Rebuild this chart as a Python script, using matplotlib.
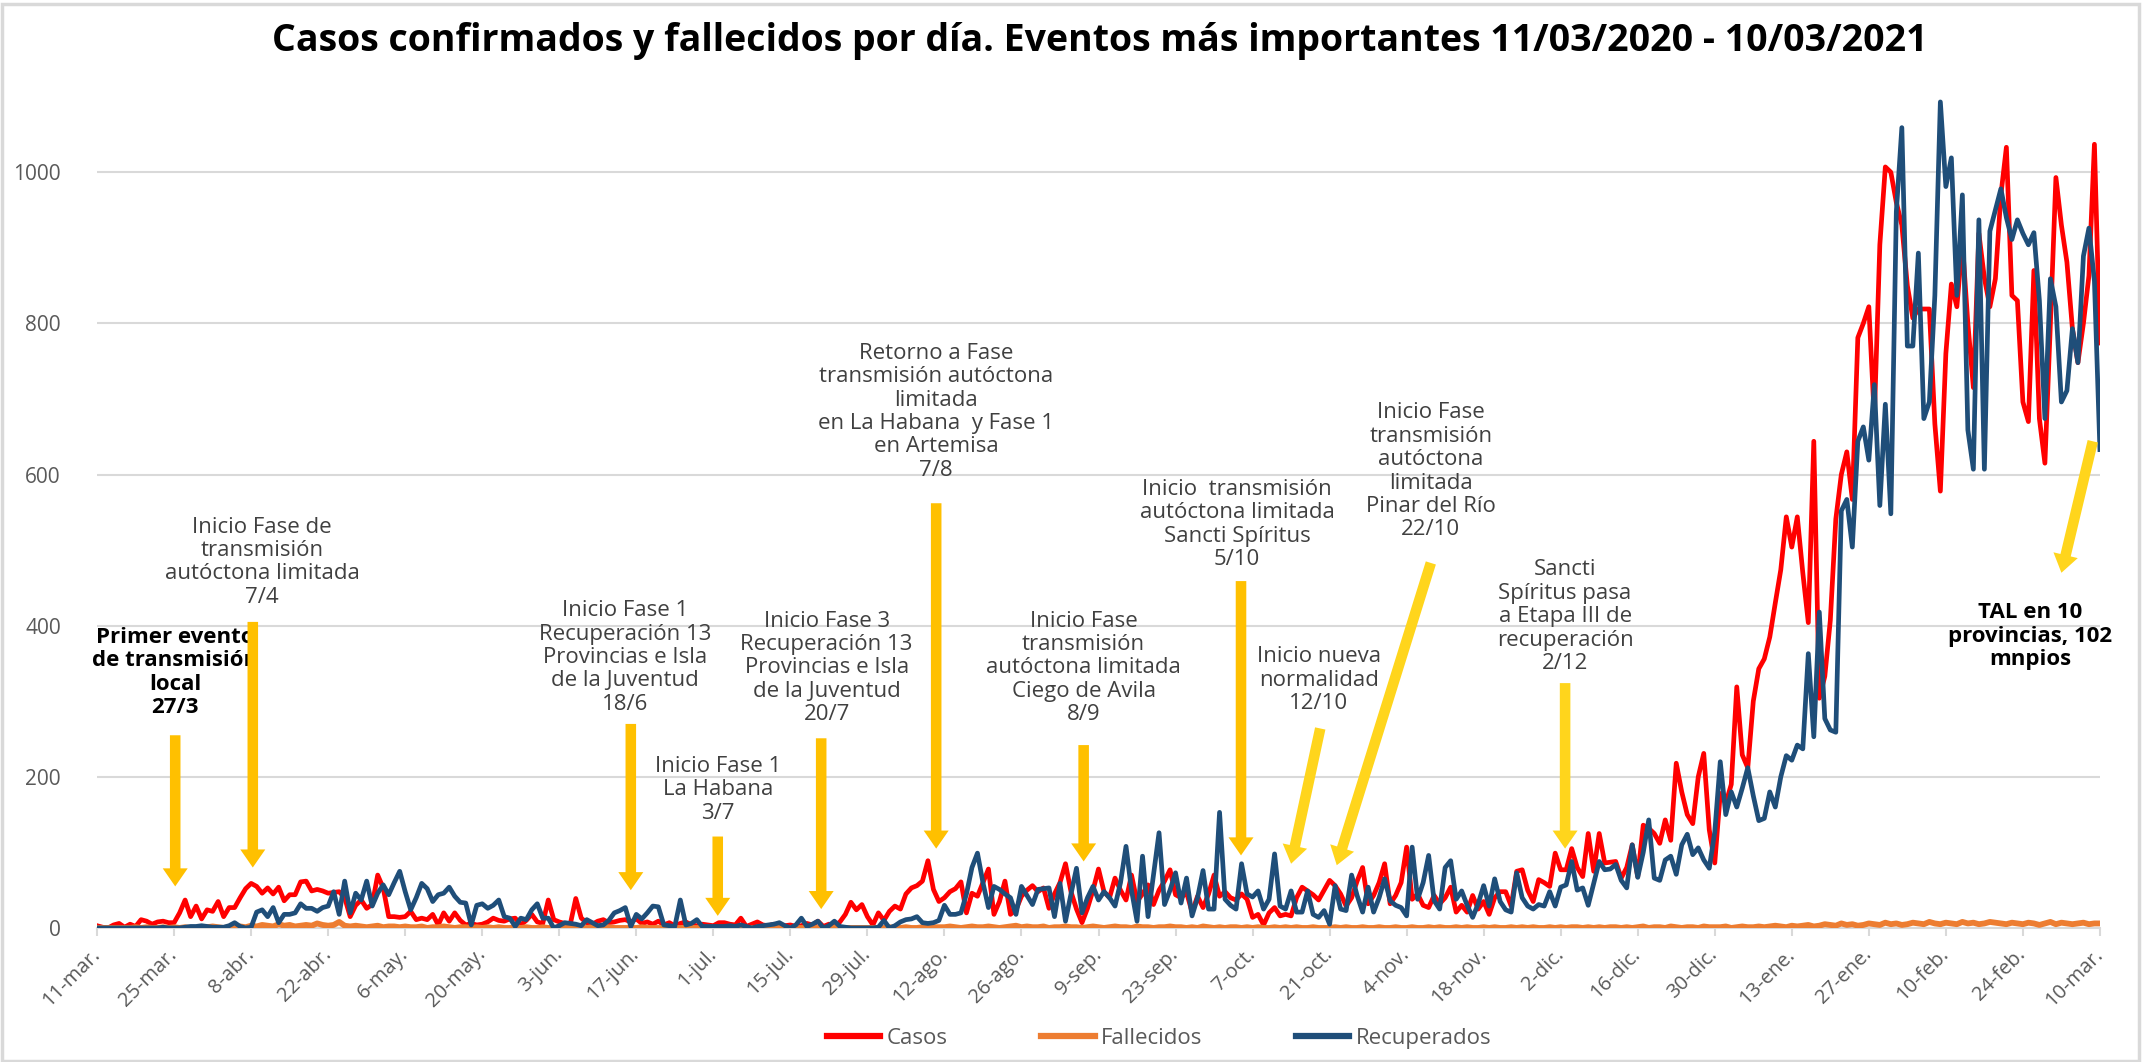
import numpy as np
import matplotlib
matplotlib.use("Agg")
from matplotlib import pyplot as plt
from matplotlib.patches import Rectangle

# one value per day, 11/03/2020 .. 10/03/2021 (rows of 14 days)
casos = [
    3, 1, 0, 4, 6, 1, 5, 2, 11, 9, 5, 8, 9, 7,
    7, 20, 37, 15, 29, 12, 24, 22, 35, 15, 27, 27, 40, 52,
    59, 55, 46, 53, 45, 54, 36, 44, 44, 61, 62, 49, 51, 49,
    46, 47, 48, 40, 15, 30, 37, 26, 31, 70, 53, 15, 15, 14,
    15, 22, 11, 13, 11, 18, 4, 20, 9, 20, 10, 4, 6, 4,
    5, 8, 13, 10, 9, 12, 13, 4, 10, 18, 8, 6, 37, 11,
    8, 6, 5, 39, 13, 7, 5, 9, 11, 7, 8, 10, 11, 8,
    12, 6, 8, 5, 9, 4, 7, 3, 6, 8, 4, 3, 5, 4,
    3, 7, 7, 5, 4, 13, 2, 5, 8, 4, 3, 5, 2, 3,
    4, 2, 3, 6, 4, 9, 2, 5, 3, 8, 18, 34, 24, 31,
    15, 4, 20, 10, 22, 29, 25, 45, 53, 56, 62, 89, 51, 35,
    40, 48, 52, 61, 20, 46, 42, 60, 78, 18, 35, 62, 18, 24,
    42, 50, 56, 48, 53, 26, 45, 60, 85, 48, 25, 7, 26, 50,
    78, 48, 40, 66, 50, 37, 70, 35, 45, 57, 31, 50, 62, 77,
    44, 40, 47, 21, 42, 27, 45, 70, 42, 48, 40, 37, 45, 38,
    14, 18, 4, 20, 27, 16, 18, 16, 40, 54, 49, 44, 37, 50,
    63, 56, 45, 29, 40, 62, 80, 32, 43, 60, 85, 32, 43, 60,
    107, 38, 45, 30, 27, 43, 32, 40, 54, 21, 30, 21, 43, 25,
    35, 18, 40, 48, 48, 29, 75, 77, 50, 35, 64, 60, 55, 99,
    77, 77, 105, 80, 68, 125, 75, 125, 86, 87, 88, 66, 80, 110,
    68, 136, 132, 125, 112, 143, 116, 218, 180, 150, 138, 200, 231, 130,
    86, 178, 165, 190, 319, 229, 212, 300, 343, 356, 385, 430, 474, 544,
    504, 544, 470, 404, 644, 304, 333, 407, 541, 600, 630, 567, 781, 800,
    822, 674, 904, 1007, 1000, 960, 930, 850, 807, 819, 819, 819, 667, 578,
    760, 852, 822, 907, 800, 715, 919, 860, 822, 859, 970, 1033, 837, 830,
    696, 670, 870, 674, 615, 800, 993, 930, 881, 793, 748, 800, 863, 1037,
    774,
]

fallecidos = [
    0, 0, 0, 0, 0, 0, 0, 1, 0, 1, 0, 0, 1, 0,
    1, 0, 1, 0, 0, 1, 1, 2, 1, 0, 1, 1, 2, 1,
    3, 2, 4, 3, 2, 5, 3, 4, 2, 3, 4, 3, 6, 4,
    3, 4, 8, 3, 2, 3, 2, 1, 2, 3, 1, 2, 2, 1,
    2, 1, 1, 2, 0, 1, 1, 2, 1, 0, 1, 1, 0, 1,
    0, 1, 0, 1, 0, 0, 1, 0, 1, 0, 0, 1, 0, 0,
    1, 0, 0, 1, 0, 0, 1, 0, 0, 1, 0, 0, 0, 0,
    0, 1, 0, 0, 0, 0, 1, 0, 0, 0, 0, 0, 0, 1,
    0, 0, 0, 0, 1, 0, 0, 0, 0, 0, 0, 1, 0, 0,
    0, 0, 0, 0, 0, 0, 0, 0, 1, 0, 0, 0, 0, 0,
    0, 0, 0, 0, 1, 0, 0, 1, 0, 0, 1, 0, 1, 1,
    1, 2, 1, 0, 1, 2, 1, 1, 2, 1, 0, 1, 2, 3,
    1, 2, 1, 1, 2, 0, 1, 1, 2, 1, 1, 0, 1, 2,
    1, 0, 1, 2, 1, 1, 0, 2, 1, 1, 0, 1, 1, 2,
    1, 1, 0, 1, 0, 2, 1, 0, 1, 0, 1, 1, 0, 1,
    0, 1, 0, 0, 1, 0, 1, 0, 1, 0, 0, 1, 0, 0,
    0, 1, 0, 1, 0, 0, 1, 0, 0, 1, 0, 0, 1, 0,
    0, 1, 0, 0, 1, 0, 1, 0, 0, 1, 0, 1, 0, 0,
    1, 0, 1, 0, 0, 1, 0, 1, 0, 1, 0, 0, 1, 0,
    1, 0, 1, 1, 0, 1, 0, 1, 0, 1, 1, 0, 1, 0,
    1, 2, 0, 1, 1, 0, 2, 1, 0, 1, 1, 0, 2, 1,
    1, 1, 2, 0, 1, 2, 1, 1, 2, 1, 2, 3, 2, 1,
    3, 2, 3, 4, 2, 3, 5, 4, 3, 6, 4, 5, 3, 4,
    6, 5, 4, 7, 5, 6, 4, 5, 7, 6, 5, 8, 6, 5,
    7, 6, 5, 8, 6, 7, 5, 6, 8, 7, 6, 5, 7, 6,
    5, 7, 6, 4, 6, 8, 5, 7, 6, 5, 6, 7, 5, 6,
    6,
]

recuperados = [
    0, 0, 0, 0, 0, 0, 0, 0, 0, 0, 0, 0, 1, 0,
    0, 0, 1, 2, 2, 3, 2, 1, 1, 1, 3, 7, 2, 0,
    1, 21, 24, 15, 27, 7, 18, 18, 20, 32, 26, 26, 22, 27,
    29, 48, 18, 62, 20, 46, 37, 62, 29, 46, 57, 44, 60, 75,
    48, 24, 40, 59, 52, 35, 44, 46, 54, 42, 34, 33, 4, 30,
    32, 26, 30, 37, 15, 13, 2, 13, 11, 24, 32, 13, 13, 0,
    3, 7, 6, 5, 3, 11, 7, 3, 4, 10, 20, 23, 27, 2,
    18, 12, 20, 29, 28, 4, 3, 2, 37, 4, 6, 11, 2, 2,
    2, 2, 2, 3, 2, 4, 2, 0, 2, 3, 4, 5, 7, 3,
    0, 4, 13, 2, 5, 9, 0, 3, 9, 2, 1, 0, 0, 0,
    0, 0, 1, 10, 0, 3, 8, 11, 12, 15, 7, 6, 7, 10,
    30, 18, 18, 20, 45, 80, 99, 60, 27, 55, 51, 45, 40, 18,
    55, 43, 31, 51, 52, 53, 15, 59, 9, 45, 79, 20, 40, 55,
    37, 48, 40, 29, 60, 108, 50, 9, 95, 15, 70, 126, 31, 50,
    73, 33, 66, 16, 40, 76, 25, 25, 153, 38, 30, 25, 85, 45,
    41, 49, 25, 38, 98, 29, 25, 49, 21, 21, 49, 18, 14, 23,
    5, 56, 25, 23, 70, 43, 21, 54, 21, 40, 65, 36, 30, 27,
    16, 107, 38, 60, 96, 36, 25, 80, 89, 38, 49, 30, 14, 32,
    56, 29, 65, 35, 24, 21, 73, 40, 29, 25, 31, 29, 48, 29,
    54, 57, 88, 50, 53, 30, 59, 88, 77, 78, 84, 63, 53, 110,
    67, 100, 143, 66, 63, 90, 95, 71, 110, 124, 97, 106, 90, 79,
    127, 220, 150, 180, 160, 185, 212, 175, 142, 145, 180, 160, 200, 228,
    222, 242, 237, 363, 253, 418, 277, 262, 259, 552, 567, 504, 644, 663,
    619, 719, 559, 693, 548, 948, 1059, 770, 770, 893, 674, 696, 837, 1093,
    981, 1019, 837, 970, 659, 607, 937, 607, 922, 950, 978, 940, 911, 937,
    919, 904, 920, 830, 674, 859, 822, 696, 711, 793, 748, 889, 926, 856,
    633,
]

etiquetas = ['11-mar.', '25-mar.', '8-abr.', '22-abr.', '6-may.', '20-may.', '3-jun.',
             '17-jun.', '1-jul.', '15-jul.', '29-jul.', '12-ago.', '26-ago.', '9-sep.',
             '23-sep.', '7-oct.', '21-oct.', '4-nov.', '18-nov.', '2-dic.', '16-dic.',
             '30-dic.', '13-ene.', '27-ene.', '10-feb.', '24-feb.', '10-mar.']

eventos = [
    "Primer evento\nde transmisión\nlocal\n27/3",
    "Inicio Fase de\ntransmisión\nautóctona limitada\n7/4",
    "Inicio Fase 1\nRecuperación 13\nProvincias e Isla\nde la Juventud\n18/6",
    "Inicio Fase 1\nLa Habana\n3/7",
    "Inicio Fase 3\nRecuperación 13\nProvincias e Isla\nde la Juventud\n20/7",
    "Retorno a Fase\ntransmisión autóctona\nlimitada\nen La Habana  y Fase 1\nen Artemisa\n7/8",
    "Inicio Fase\ntransmisión\nautóctona limitada\nCiego de Avila\n8/9",
    "Inicio  transmisión\nautóctona limitada\nSancti Spíritus\n5/10",
    "Inicio nueva\nnormalidad\n12/10",
    "Inicio Fase\ntransmisión\nautóctona\nlimitada\nPinar del Río\n22/10",
    "Sancti\nSpíritus pasa\na Etapa III de\nrecuperación\n2/12",
    "TAL en 10\nprovincias, 102\nmnpios",
]

# layout of each event: text centre, arrow tail, arrow head (day, value), bold, arrow colour
GOLD = '#FFC000'
YEL = '#FFD51C'
colocacion = [
    ((14.2, 338), (14.2, 255), (14.2, 55), True, GOLD),
    ((30.0, 484), (28.3, 405), (28.3, 80), False, GOLD),
    ((95.9, 358), (97.0, 270), (97.0, 50), False, GOLD),
    ((112.8, 183), (112.8, 121), (112.8, 16), False, GOLD),
    ((132.6, 344), (131.6, 251), (131.6, 25), False, GOLD),
    ((152.5, 683), (152.5, 562), (152.5, 105), False, GOLD),
    ((179.3, 344), (179.3, 242), (179.3, 88), False, GOLD),
    ((207.2, 534), (207.9, 459), (207.9, 96), False, GOLD),
    ((222.0, 328), (222.3, 264), (217.0, 85), False, YEL),
    ((242.4, 604), (242.4, 483), (225.3, 83), False, YEL),
    ((266.8, 412), (266.8, 324), (266.8, 105), False, YEL),
    ((351.3, 386), (362.7, 644), (357.0, 470), True, YEL),
]

plt.rcParams['font.family'] = ['Open Sans', 'DejaVu Sans']

x = np.arange(len(casos))

fig = plt.figure(figsize=(21.43, 10.62), dpi=100)
ax = fig.add_axes([0.0453, 0.1262, 0.9346, 0.7828])

ax.plot(x, casos, color='#FF0000', lw=3.4, label='Casos', zorder=3, solid_joinstyle='round')
ax.plot(x, fallecidos, color='#ED7D31', lw=4.2, label='Fallecidos', zorder=3, solid_joinstyle='round')
ax.plot(x, recuperados, color='#1F4E79', lw=3.4, label='Recuperados', zorder=4, solid_joinstyle='round')

ax.set_xlim(0, len(casos) - 1)
ax.set_ylim(0, 1100)
ax.set_yticks(range(0, 1001, 200))
ax.set_xticks(range(0, len(casos), 14))
ax.set_xticklabels(etiquetas, rotation=45, ha='right', va='center', rotation_mode='anchor')

ax.yaxis.grid(True, color='#D9D9D9', lw=1.5)
ax.set_axisbelow(True)
for s in ['top', 'right', 'left']:
    ax.spines[s].set_visible(False)
ax.spines['bottom'].set_color('#D9D9D9')
ax.spines['bottom'].set_linewidth(1.5)
ax.tick_params(axis='x', length=6, width=1.5, color='#D9D9D9', labelsize=14.5,
               labelcolor='#595959', pad=11)
ax.tick_params(axis='y', length=0, labelsize=15, labelcolor='#595959', pad=26)

for texto, (pos, cola, punta, negrita, col) in zip(eventos, colocacion):
    ax.text(pos[0], pos[1], texto, ha='center', va='center', fontsize=16,
            fontweight='bold' if negrita else 'normal',
            color='black' if negrita else '#404040', linespacing=1.15, zorder=5)
    ax.annotate('', xy=punta, xytext=cola, annotation_clip=False,
                arrowprops=dict(arrowstyle='simple,head_length=0.65,head_width=0.9,tail_width=0.38',
                                mutation_scale=20, color=col, lw=0,
                                shrinkA=0, shrinkB=0), zorder=6)

fig.text(0.513, 0.961, 'Casos confirmados y fallecidos por día. Eventos más importantes 11/03/2020 - 10/03/2021',
         ha='center', va='center', fontsize=27, fontweight='bold')

leg = ax.legend(loc='center', bbox_to_anchor=(0.541, 0.022), bbox_transform=fig.transFigure,
                ncol=3, frameon=False, fontsize=16, handlelength=2.4, columnspacing=4.2,
                handletextpad=0.3, labelcolor='#595959')
for h in leg.get_lines():
    h.set_linewidth(4.5)

fig.patches.append(Rectangle((0.001, 0.001), 0.997, 0.995, transform=fig.transFigure,
                             fill=False, edgecolor='#D9D9D9', lw=2.5))

plt.savefig('out.png', dpi=100)
